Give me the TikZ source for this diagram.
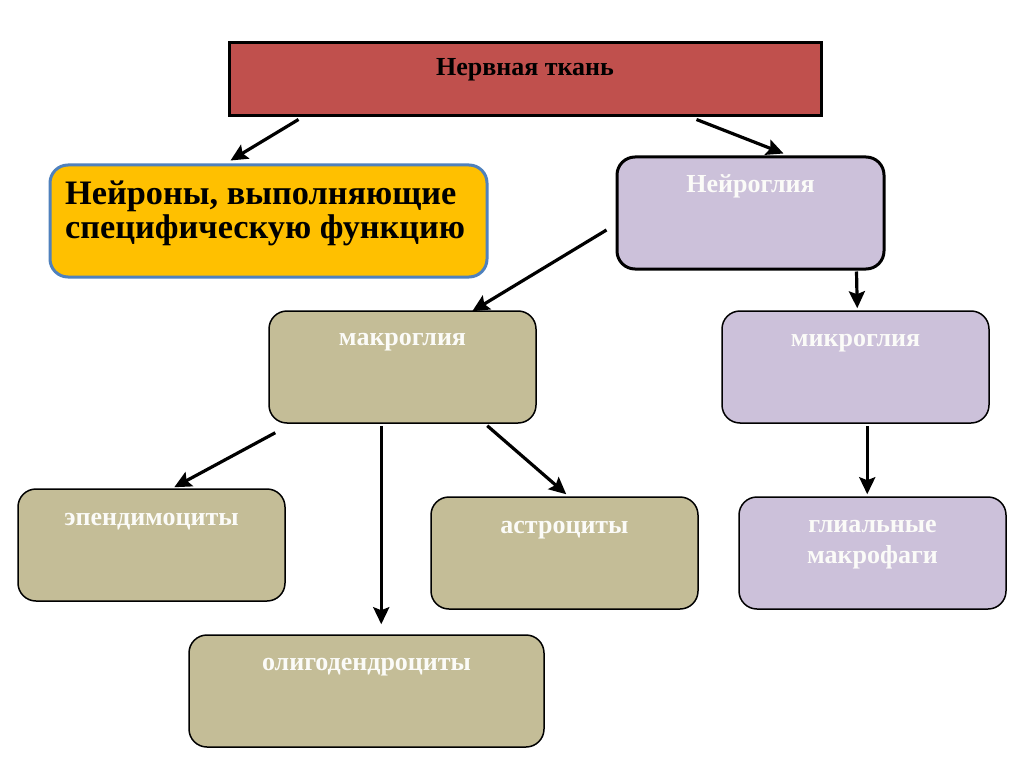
\documentclass[tikz,border=0pt]{standalone}
\usepackage{fontspec}
\setmainfont{Liberation Serif}
\usetikzlibrary{arrows.meta,calc}
\definecolor{topred}{HTML}{C0504D}
\definecolor{ygold}{HTML}{FFC000}
\definecolor{yborder}{HTML}{4F81BD}
\definecolor{lav}{HTML}{CCC1DA}
\definecolor{khaki}{HTML}{C4BD97}
\definecolor{offwhite}{HTML}{FBFBF8}
\begin{document}
\begin{tikzpicture}[x=1pt,y=-1pt,
  box/.style={draw=black, line width=1.5pt, rounded corners=18pt, minimum height=112pt, minimum width=267pt, inner sep=0pt},
  thickbox/.style={box, line width=3pt},
  wtxt/.style={anchor=base, text=offwhite, font=\fontsize{26}{31}\selectfont\bfseries, align=center, inner sep=0pt},
  btxt/.style={anchor=base, text=black, font=\fontsize{26}{31}\selectfont\bfseries, inner sep=0pt},
  arr/.style={draw=black, line width=3.2pt, -{Stealth[length=17pt,width=16pt,inset=3pt]}}
]
\useasboundingbox (0,0) rectangle (1024,767);
\fill[white] (0,0) rectangle (1024,767);

\node[draw=black, line width=3pt, fill=topred, minimum width=592pt, minimum height=73pt, inner sep=0pt] (top) at (525,79.5) {};
\node[btxt] (toptxt) at (525,76) {Нервная ткань};

\node[thickbox, draw=yborder, fill=ygold, minimum width=437pt] (yel) at (268.5,221) {};
\node[anchor=base west, inner sep=0pt, align=left, font=\fontsize{34.3}{34}\selectfont\bfseries] (yeltxt) at (65,238) {Нейроны, выполняющие\\специфическую функцию};

\node[thickbox, fill=lav] (neuro) at (750.5,213) {};
\node[wtxt] (neurotxt) at (750.5,193) {Нейроглия};

\node[box, fill=khaki] (macro) at (402.5,367) {};
\node[wtxt] (macrotxt) at (402.5,345) {макроглия};

\node[box, fill=lav] (micro) at (855.5,367) {};
\node[wtxt] (microtxt) at (855.5,346) {микроглия};

\node[box, fill=khaki] (epend) at (151.5,545) {};
\node[wtxt] (ependtxt) at (151.5,525) {эпендимоциты};

\node[box, fill=khaki] (astro) at (564.5,553) {};
\node[wtxt] (astrotxt) at (564.5,533) {астроциты};

\node[box, fill=khaki, minimum width=355pt] (oligo) at (366.5,691) {};
\node[wtxt] (oligotxt) at (366.5,670) {олигодендроциты};

\node[box, fill=lav] (glial) at (872.5,553) {};
\node[wtxt] (glialtxt) at (872.5,563) {глиальные\\макрофаги};

\draw[arr] ($(top.south west)+(71,2)$) -- ($(yel.north west)+(182,-3)$);
\draw[arr] ($(top.south west)+(469,2)$) -- ($(neuro.north west)+(168,-2)$);
\draw[arr] ($(neuro.west)+(-9,17)$) -- ($(macro.north west)+(204,1)$);
\draw[arr] ($(neuro.south west)+(241,1)$) -- ($(micro.north west)+(136,-2)$);
\draw[arr] ($(macro.south west)+(7,9)$) -- ($(epend.north west)+(157,-1)$);
\draw[arr] ($(macro.south west)+(113,2)$) -- ($(oligo.north west)+(193,-10)$);
\draw[arr] ($(macro.south west)+(219,2)$) -- ($(astro.north west)+(136,-2)$);
\draw[arr] ($(micro.south west)+(146,2)$) -- ($(glial.north west)+(129,-2)$);
\end{tikzpicture}
\end{document}
